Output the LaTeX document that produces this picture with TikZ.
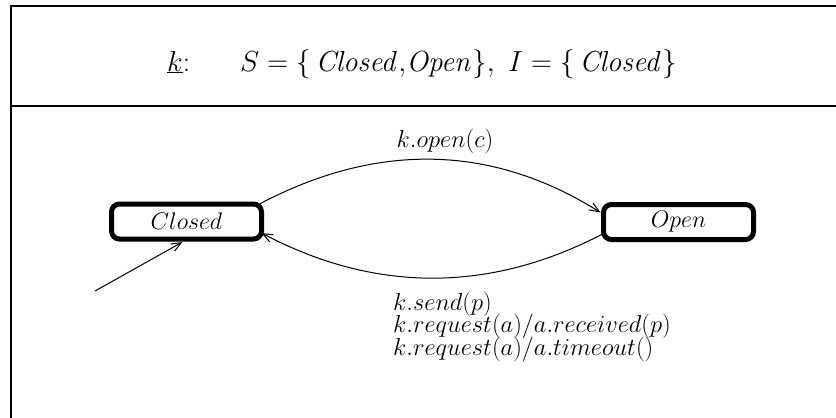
\RequirePackage{fix-cm}
\documentclass[tikz,border=0pt]{standalone}
\usetikzlibrary{arrows.meta,calc}
\begin{document}
\begin{tikzpicture}[x=1pt,y=-1pt,
  frame/.style={line width=2.8pt},
  statebox/.style={draw,line width=5pt,rounded corners=8pt,minimum width=150pt,minimum height=35pt,inner sep=0pt,outer sep=0pt,font=\fontsize{24}{24}\selectfont},
  trans/.style={line width=1pt,-{Straight Barb[length=10pt,width=8pt,line width=1pt]}},
  lbl/.style={inner sep=0pt,font=\fontsize{24.5}{24.5}\selectfont},
  ttl/.style={inner sep=0pt,font=\fontsize{29}{29}\selectfont}]
\useasboundingbox (0,0) rectangle (836,418);
\fill[white] (0,0) rectangle (836,418);
% frame
\draw[frame] (836,6) -- (11,6) -- (11,418);
\draw[frame] (11,106) -- (836,106);
% title
\node[ttl,anchor=base west] (title) at (167,71) {$\underline{k}$:\hspace{50pt}$S=\{\,\mathit{Closed}{,}\mathit{Open}\},\ I=\{\,\mathit{Closed}\}$};
% states
\node[statebox] (closed) at (186.5,221.5) {$Closed$};
\node[statebox] (open) at (678.5,222) {$Open$};
% transitions
\coordinate (init) at (95,291);
\draw[trans] (init) -- ($(closed.south)+(-4,3)$);
\draw[trans] ($(closed.north east)+(-2,0)$) .. controls (375,143) and (490,143) .. ($(open.north west)+(-3,8)$);
\draw[trans] ($(open.south west)+(0,-6)$) .. controls (490,293) and (375,293) .. ($(closed.south east)+(0,-6)$);
% labels
\node[lbl,anchor=base] (l1) at (445,147) {$k.open(c)$};
\node[lbl,anchor=base west] (l2) at (393,310) {$k.send(p)$};
\node[lbl,anchor=base west] (l3) at (393,332.5) {$k.request(a)/a.received(p)$};
\node[lbl,anchor=base west] (l4) at (393,355) {$k.request(a)/a.timeout()$};
\end{tikzpicture}
\end{document}
